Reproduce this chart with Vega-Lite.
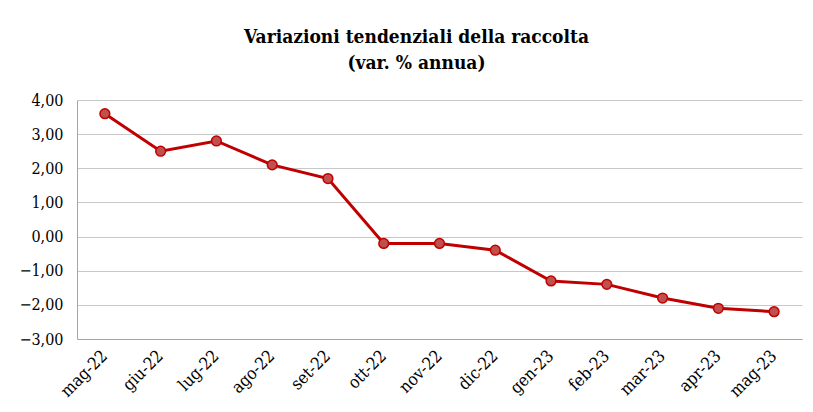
{
  "$schema": "https://vega.github.io/schema/vega-lite/v6.json",
  "autosize": "none",
  "width": 725,
  "height": 239,
  "padding": {"left": 77, "top": 100, "right": 11, "bottom": 73},
  "background": "white",
  "title": {
    "text": ["Variazioni tendenziali della raccolta", "(var. % annua)"],
    "font": "DejaVu Serif Condensed",
    "fontSize": 19,
    "fontWeight": "bold",
    "color": "black",
    "lineHeight": 26,
    "anchor": "middle",
    "frame": "group",
    "dx": -23,
    "offset": 19
  },
  "data": {
    "values": [
      {"mese": "mag-22", "v": 3.6},
      {"mese": "giu-22", "v": 2.5},
      {"mese": "lug-22", "v": 2.8},
      {"mese": "ago-22", "v": 2.1},
      {"mese": "set-22", "v": 1.7},
      {"mese": "ott-22", "v": -0.2},
      {"mese": "nov-22", "v": -0.2},
      {"mese": "dic-22", "v": -0.4},
      {"mese": "gen-23", "v": -1.3},
      {"mese": "feb-23", "v": -1.4},
      {"mese": "mar-23", "v": -1.8},
      {"mese": "apr-23", "v": -2.1},
      {"mese": "mag-23", "v": -2.2}
    ]
  },
  "encoding": {
    "x": {
      "field": "mese",
      "type": "ordinal",
      "sort": null,
      "scale": {"type": "band", "paddingInner": 0, "paddingOuter": 0},
      "axis": {
        "title": null,
        "labelAngle": -45,
        "labelAlign": "right",
        "labelBaseline": "middle",
        "labelPadding": 14,
        "labelFont": "DejaVu Serif Condensed",
        "labelFontSize": 17,
        "labelColor": "black",
        "ticks": false,
        "domainColor": "#a6a6a6",
        "grid": false
      }
    },
    "y": {
      "field": "v",
      "type": "quantitative",
      "scale": {"domain": [-3, 4], "nice": false, "zero": false},
      "axis": {
        "title": null,
        "values": [-3, -2, -1, 0, 1, 2, 3, 4],
        "labelExpr": "replace(format(datum.value, '.2f'), '.', ',')",
        "labelFont": "DejaVu Serif Condensed",
        "labelFontSize": 16,
        "labelColor": "black",
        "labelPadding": 14,
        "ticks": false,
        "domainColor": "#a6a6a6",
        "grid": true,
        "gridColor": "#c8c8c8",
        "gridWidth": 1
      }
    }
  },
  "layer": [
    {"mark": {"type": "line", "color": "#c00000", "strokeWidth": 3}},
    {"mark": {"type": "point", "shape": "circle", "filled": true, "fill": "#c0504d", "stroke": "#c00000", "strokeWidth": 1.5, "size": 95, "opacity": 1}}
  ],
  "config": {"view": {"stroke": null}}
}
